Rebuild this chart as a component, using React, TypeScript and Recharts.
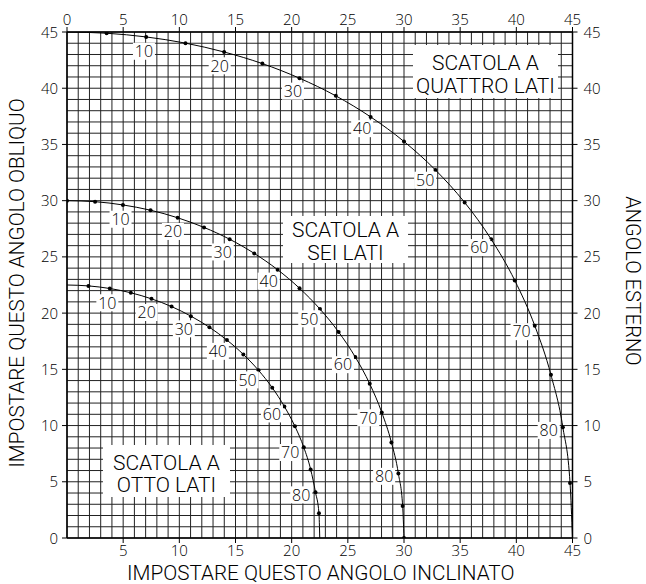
import React from 'react';
import { ComposedChart, Line, XAxis, YAxis, CartesianGrid, ReferenceArea, LabelList } from 'recharts';

// spring (external) angle of each marked point, degrees
const springAngles = [0, 5, 10, 15, 20, 25, 30, 35, 40, 45, 50, 55, 60, 65, 70, 75, 80, 85, 90];

// four-sided box: bevel (x) and miter (y)
const bevel4 = [0, 3.53, 7.05, 10.55, 13.99, 17.39, 20.7, 23.93, 27.03, 30.0, 32.8, 35.4, 37.76, 39.86, 41.64, 43.08, 44.14, 44.78, 45];
const miter4 = [45, 44.89, 44.56, 44.01, 43.22, 42.19, 40.89, 39.32, 37.45, 35.26, 32.73, 29.84, 26.57, 22.91, 18.88, 14.51, 9.85, 4.9, 0];

// six-sided box
const bevel6 = [0, 2.5, 4.98, 7.44, 9.85, 12.2, 14.48, 16.67, 18.75, 20.7, 22.52, 24.18, 25.66, 26.95, 28.02, 28.88, 29.5, 29.88, 30];
const miter6 = [30, 29.91, 29.62, 29.15, 28.48, 27.62, 26.57, 25.31, 23.86, 22.21, 20.36, 18.32, 16.1, 13.71, 11.17, 8.5, 5.73, 2.85, 0];

// eight-sided box
const bevel8 = [0, 1.91, 3.81, 5.68, 7.52, 9.31, 11.03, 12.68, 14.24, 15.7, 17.05, 18.27, 19.35, 20.29, 21.08, 21.69, 22.12, 22.43, 22.5];
const miter8 = [22.5, 22.42, 22.19, 21.81, 21.27, 20.58, 19.73, 18.74, 17.6, 16.33, 14.91, 13.37, 11.7, 9.93, 8.06, 6.1, 4.07, 2.2, 0];

// labelled spring angles along each curve
const labelAngles = [10, 20, 30, 40, 50, 60, 70, 80];

// grid every degree; tick labels every five
const gridTicks = [0, 1, 2, 3, 4, 5, 6, 7, 8, 9, 10, 11, 12, 13, 14, 15, 16, 17, 18, 19, 20, 21, 22, 23, 24, 25, 26, 27, 28, 29, 30, 31, 32, 33, 34, 35, 36, 37, 38, 39, 40, 41, 42, 43, 44, 45];
const topTicks = [0, 5, 10, 15, 20, 25, 30, 35, 40, 45];
const bottomTicks = [5, 10, 15, 20, 25, 30, 35, 40, 45];
const leftTicks = [0, 5, 10, 15, 20, 25, 30, 35, 40, 45];
const rightTicks = [0, 5, 10, 15, 20, 25, 30, 35, 40, 45];

const box4Lines = ['SCATOLA A', 'QUATTRO LATI'];
const box6Lines = ['SCATOLA A', 'SEI LATI'];
const box8Lines = ['SCATOLA A', 'OTTO LATI'];

const titleBottom = 'IMPOSTARE QUESTO ANGOLO INCLINATO';
const titleLeft = 'IMPOSTARE QUESTO ANGOLO OBLIQUO';
const titleRight = 'ANGOLO ESTERNO';

type Row = { x: number; y: number; a: number };
const toRows = (b: number[], m: number[]): Row[] => springAngles.map((a, i) => ({ x: b[i], y: m[i], a }));
const rows4 = toRows(bevel4, miter4);
const rows6 = toRows(bevel6, miter6);
const rows8 = toRows(bevel8, miter8);

const numFont = { fontFamily: '"Open Sans", "DejaVu Sans", sans-serif', fontWeight: 300, fill: '#000' };
const textFont = { fontFamily: 'Roboto, "Liberation Sans", Arial, sans-serif', fontWeight: 300, fill: '#000' };

const BottomTick = (p: any) => {
  const v = p.payload?.value;
  if (!bottomTicks.includes(v)) return <g />;
  return (
    <g>
      <line x1={p.x} x2={p.x} y1={p.y} y2={p.y + 5} stroke="#000" strokeWidth={1} />
      <text x={p.x} y={p.y + 18} textAnchor="middle" fontSize={15} {...numFont}>{v}</text>
    </g>
  );
};
const TopTick = (p: any) => {
  const v = p.payload?.value;
  if (!topTicks.includes(v)) return <g />;
  return (
    <g>
      <line x1={p.x} x2={p.x} y1={p.y - 5} y2={p.y} stroke="#000" strokeWidth={1} />
      <text x={p.x} y={p.y - 7} textAnchor="middle" fontSize={15} {...numFont}>{v}</text>
    </g>
  );
};
const LeftTick = (p: any) => {
  const v = p.payload?.value;
  if (!leftTicks.includes(v)) return <g />;
  return (
    <g>
      <line x1={p.x - 5} x2={p.x} y1={p.y} y2={p.y} stroke="#000" strokeWidth={1} />
      <text x={p.x - 9} y={p.y + 5.5} textAnchor="end" fontSize={15} {...numFont}>{v}</text>
    </g>
  );
};
const RightTick = (p: any) => {
  const v = p.payload?.value;
  if (!rightTicks.includes(v)) return <g />;
  return (
    <g>
      <line x1={p.x} x2={p.x + 5} y1={p.y} y2={p.y} stroke="#000" strokeWidth={1} />
      <text x={p.x + 11} y={p.y + 5.5} textAnchor="start" fontSize={15} {...numFont}>{v}</text>
    </g>
  );
};

const makeDot = (withEnds: boolean) => (p: any) => {
  const a = p.payload?.a;
  const show = withEnds || (a > 0 && a < 90);
  if (!show || p.cx == null) return <g key={p.key ?? `d${p.index}`} />;
  return <circle key={p.key ?? `d${p.index}`} cx={p.cx} cy={p.cy} r={2} fill="#000" />;
};

const makeCurveLabel = (b: number[], m: number[]) => (p: any) => {
  const a = p.value;
  if (!labelAngles.includes(a)) return null;
  const i = springAngles.indexOf(a);
  const px = p.x ?? p.viewBox?.x;
  const py = p.y ?? p.viewBox?.y;
  const r = Math.hypot(b[i], m[i]);
  const cx = px - (b[i] / r) * 14.5;
  const cy = py + (m[i] / r) * 14.5;
  return (
    <g key={`l${a}`}>
      <rect x={cx - 11} y={cy - 8.5} width={22} height={17} fill="#fff" />
      <text x={cx} y={cy + 5.8} textAnchor="middle" fontSize={16} {...numFont}>{a}</text>
    </g>
  );
};

const makeBoxLabel = (lines: string[], offs: number[]) => (p: any) => {
  const vb = p.viewBox || {};
  const cx = vb.x + vb.width / 2;
  return (
    <g>
      {lines.map((t, k) => (
        <text key={k} x={cx} y={vb.y + offs[k]} textAnchor="middle" fontSize={21} {...textFont}>{t}</text>
      ))}
    </g>
  );
};

const titleStyle = { fontSize: 20.7 };

const BottomTitle = (p: any) => {
  const vb = p.viewBox || {};
  return <text x={vb.x + vb.width / 2 + 1} y={580} textAnchor="middle" {...titleStyle} {...textFont}>{titleBottom}</text>;
};
const LeftTitle = (p: any) => {
  const vb = p.viewBox || {};
  const cy = vb.y + vb.height / 2 - 2;
  return <text x={17} y={cy} transform={`rotate(-90 17 ${cy})`} textAnchor="middle" dominantBaseline="central" {...titleStyle} {...textFont}>{titleLeft}</text>;
};
const RightTitle = (p: any) => {
  const vb = p.viewBox || {};
  const cy = vb.y + vb.height / 2 - 4;
  return <text x={633} y={cy} transform={`rotate(90 633 ${cy})`} textAnchor="middle" dominantBaseline="central" fontSize={20} {...textFont}>{titleRight}</text>;
};

export default function App() {
  return (
    <div style={{ position: 'absolute', left: 0, top: 0, width: 646, height: 584, background: '#fff' }}>
      <ComposedChart width={646} height={584} data={rows4} margin={{ top: 0, right: 0, bottom: 0, left: 0 }}>
        <CartesianGrid stroke="#222" strokeWidth={1} />
        <XAxis
          dataKey="x" type="number" domain={[0, 45]} allowDataOverflow ticks={gridTicks} interval={0}
          height={46} tickSize={0} tickMargin={0} tick={BottomTick}
          axisLine={{ stroke: '#000', strokeWidth: 1.5 }} label={BottomTitle}
        />
        <XAxis
          xAxisId="top" dataKey="x" orientation="top" type="number" domain={[0, 45]} allowDataOverflow ticks={topTicks} interval={0}
          height={32} tickSize={0} tickMargin={0} tick={TopTick}
          axisLine={{ stroke: '#000', strokeWidth: 1.5 }}
        />
        <YAxis
          type="number" domain={[0, 45]} allowDataOverflow ticks={gridTicks} interval={0}
          width={67} tickSize={0} tickMargin={0} tick={LeftTick}
          axisLine={{ stroke: '#000', strokeWidth: 1.5 }} label={LeftTitle}
        />
        <YAxis
          yAxisId="right" orientation="right" type="number" domain={[0, 45]} allowDataOverflow ticks={rightTicks} interval={0}
          width={73.5} tickSize={0} tickMargin={0} tick={RightTick}
          axisLine={{ stroke: '#000', strokeWidth: 1.5 }} label={RightTitle}
        />
        <ReferenceArea x1={30.8} x2={43.71} y1={43.84} y2={39.13} fill="#fff" fillOpacity={1} stroke="none" label={makeBoxLabel(box4Lines, [25, 48])} />
        <ReferenceArea x1={19.23} x2={30.36} y1={28.64} y2={24.46} fill="#fff" fillOpacity={1} stroke="none" label={makeBoxLabel(box6Lines, [21, 44])} />
        <ReferenceArea x1={3.2} x2={14.51} y1={8.27} y2={3.64} fill="#fff" fillOpacity={1} stroke="none" label={makeBoxLabel(box8Lines, [25, 47])} />
        <Line data={rows4} dataKey="y" type="monotone" stroke="#000" strokeWidth={1} dot={makeDot(false)} activeDot={false} isAnimationActive={false}>
          <LabelList dataKey="a" content={makeCurveLabel(bevel4, miter4)} />
        </Line>
        <Line data={rows6} dataKey="y" type="monotone" stroke="#000" strokeWidth={1} dot={makeDot(true)} activeDot={false} isAnimationActive={false}>
          <LabelList dataKey="a" content={makeCurveLabel(bevel6, miter6)} />
        </Line>
        <Line data={rows8} dataKey="y" type="monotone" stroke="#000" strokeWidth={1} dot={makeDot(false)} activeDot={false} isAnimationActive={false}>
          <LabelList dataKey="a" content={makeCurveLabel(bevel8, miter8)} />
        </Line>
      </ComposedChart>
    </div>
  );
}
